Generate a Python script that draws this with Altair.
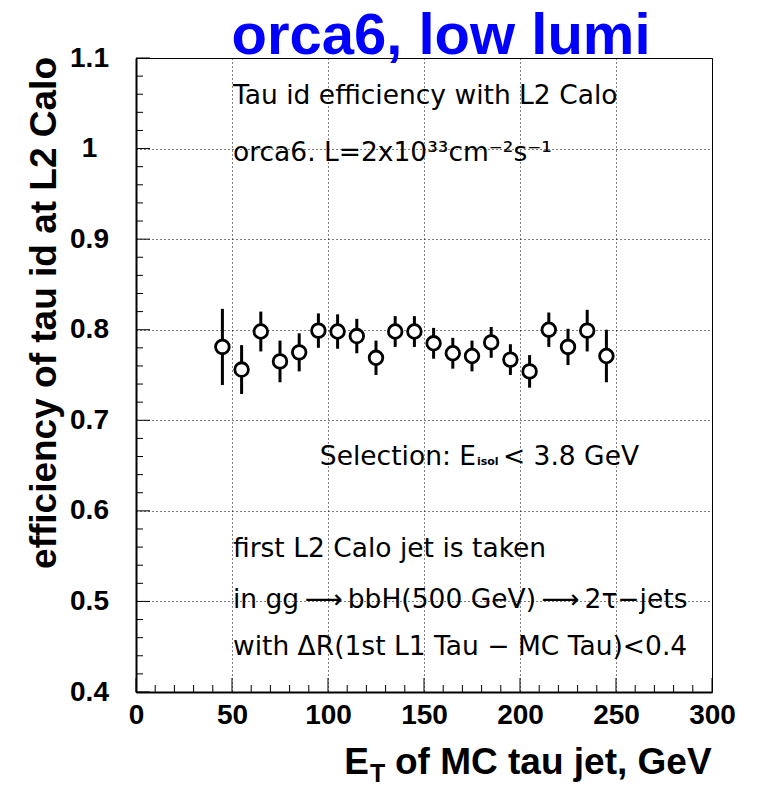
import altair as alt
import pandas as pd

# ---- data ----
et_gev = [45, 55, 65, 75, 85, 95, 105, 115, 125, 135, 145, 155, 165, 175, 185, 195, 205, 215, 225, 235, 245]
efficiency = [0.781, 0.756, 0.798, 0.765, 0.775, 0.799, 0.798, 0.793, 0.769, 0.798, 0.798,
              0.785, 0.774, 0.771, 0.786, 0.767, 0.754, 0.800, 0.781, 0.799, 0.771]
eff_error = [0.042, 0.027, 0.022, 0.023, 0.021, 0.019, 0.019, 0.019, 0.019, 0.017, 0.017,
             0.017, 0.017, 0.017, 0.017, 0.017, 0.018, 0.019, 0.020, 0.023, 0.029]

x_major = [0, 50, 100, 150, 200, 250, 300]
y_major = [0.4, 0.5, 0.6, 0.7, 0.8, 0.9, 1.0, 1.1]
x_minor = [v for v in range(10, 300, 10) if v % 50]
y_minor = [round(0.40 + 0.02 * i, 2) for i in range(1, 35) if i % 5]

note_text = ["Tau id efficiency with L2 Calo",
             "orca6. L=2x10³³cm⁻²s⁻¹",
             "first L2 Calo jet is taken",
             "in gg\u2009⟶\u2009bbH(500 GeV)\u2009⟶\u20092τ−jets",
             "with ΔR(1st L1 Tau − MC Tau)<0.4",
             "< 3.8 GeV"]
note_x = [50.5, 50.5, 50.5, 50.5, 50.5, 191.1]
note_y = [1.049, 0.986, 0.549, 0.493, 0.441, 0.651]

W, H = 576, 634

df = pd.DataFrame({"x": et_gev, "y": efficiency, "err": eff_error})
df["lo"] = df["y"] - df["err"]
df["hi"] = df["y"] + df["err"]

xscale = alt.Scale(domain=[0, 300], nice=False, zero=False)
yscale = alt.Scale(domain=[0.4, 1.1], nice=False, zero=False)

common_axis = dict(title=None, grid=True, gridColor="black", gridDash=[1, 3], gridWidth=1,
                   gridOpacity=1, ticks=False, tickSize=0, domain=True, domainColor="black",
                   domainWidth=2, labelFont="Liberation Sans", labelFontWeight="bold",
                   labelFontSize=28, labelColor="black", labelFlush=False, labelOverlap=False)
xaxis = alt.Axis(values=x_major, labelPadding=9, format="d", **common_axis)
yaxis = alt.Axis(values=y_major, labelPadding=47, labelAlign="center", labelBaseline="middle",
                 format="~g", **common_axis)

X = alt.X("x:Q", scale=xscale, axis=xaxis)
Y = alt.Y("y:Q", scale=yscale, axis=yaxis)

# error bars
errbars = alt.Chart(df).mark_rule(color="black", strokeWidth=3).encode(
    x=X, y=alt.Y("lo:Q", scale=yscale, axis=yaxis), y2="hi:Q")

points = alt.Chart(df).mark_point(shape="circle", filled=True, fill="white", stroke="black",
                                  strokeWidth=2.8, size=185, opacity=1).encode(x=X, y=Y)

# inward ticks
xmaj = alt.Chart(pd.DataFrame({"x": x_major})).mark_rule(color="black", strokeWidth=1).encode(
    x=X, y=alt.value(H), y2=alt.value(H - 14))
xmin = alt.Chart(pd.DataFrame({"x": x_minor})).mark_rule(color="black", strokeWidth=1).encode(
    x=X, y=alt.value(H), y2=alt.value(H - 7))
ymaj = alt.Chart(pd.DataFrame({"y": y_major})).mark_rule(color="black", strokeWidth=1).encode(
    y=Y, x=alt.value(0), x2=alt.value(14))
ymin = alt.Chart(pd.DataFrame({"y": y_minor})).mark_rule(color="black", strokeWidth=1).encode(
    y=Y, x=alt.value(0), x2=alt.value(7))

# annotations inside the frame
notes = alt.Chart(pd.DataFrame({"x": note_x, "y": note_y, "t": note_text})).mark_text(
    align="left", baseline="alphabetic", font="DejaVu Sans", fontSize=26.5, color="black").encode(
    x=X, y=Y, text="t:N")
sel = alt.Chart(pd.DataFrame({"x": [177.1], "y": [0.651], "t": ["Selection: E"]})).mark_text(
    align="right", baseline="alphabetic", font="DejaVu Sans", fontSize=26.5, color="black").encode(
    x=X, y=Y, text="t:N")
isol = alt.Chart(pd.DataFrame({"x": [177.6], "y": [0.651], "t": ["isol"]})).mark_text(
    align="left", baseline="alphabetic", font="DejaVu Sans", fontWeight="bold", fontSize=11,
    color="black").encode(x=X, y=Y, text="t:N")

# titles outside the frame
def label(text, x, y, size, align="left", angle=0, color="black"):
    kw = dict(align=align, baseline="alphabetic", font="Liberation Sans", fontWeight="bold",
              fontSize=size, color=color)
    if angle:
        kw["angle"] = angle
    return alt.Chart(pd.DataFrame({"t": [text]})).mark_text(**kw).encode(
        x=alt.value(x), y=alt.value(y), text="t:N")

title = label("orca6, low lumi", 305, -4, 58, align="center", color="#0000FF")
xt_e = label("E", 233, 716, 37, align="right")
xt_t = label("T", 234, 724, 25)
xt_rest = label("of MC tau jet, GeV", 259, 716, 37)
yt = label("efficiency of tau id at L2 Calo", -80, -1, 37, align="right", angle=270)

chart = alt.layer(errbars, points, xmaj, xmin, ymaj, ymin, notes, sel, isol,
                  title, xt_e, xt_t, xt_rest, yt).properties(
    width=W, height=H,
    autosize=alt.AutoSizeParams(type="none"),
    padding={"left": 136, "top": 58, "right": 45, "bottom": 95},
    background="white",
).configure_view(stroke="black", strokeWidth=1)

chart.save("out.html", embed_options={"renderer": "svg", "actions": False})
